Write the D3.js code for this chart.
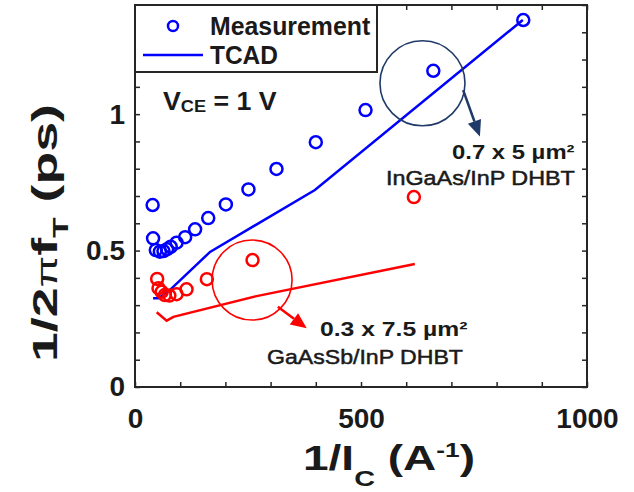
<!DOCTYPE html>
<html><head><meta charset="utf-8">
<script src="https://cdn.jsdelivr.net/npm/d3@7"></script>
<style>body{margin:0;background:#fff} svg{display:block}</style>
</head><body>
<svg id="chart" width="634" height="492"></svg>
<script>
// ---- data ----
const measBlueX = [39,40,46,55,63,71,79,92,111,133,162,201,251,313,400,510,660,859];
const measBlueY = [0.667,0.545,0.502,0.496,0.498,0.505,0.514,0.529,0.549,0.578,0.619,0.669,0.724,0.799,0.897,1.015,1.159,1.345];
const tcadBlueX = [40,52,77,166,398,858];
const tcadBlueY = [0.325,0.325,0.355,0.495,0.722,1.345];
const measRedX = [49,52,59,66,76,92,114,159,260,617];
const measRedY = [0.396,0.362,0.349,0.337,0.335,0.340,0.358,0.395,0.465,0.696];
const tcadRedX = [48,70,85,269,619];
const tcadRedY = [0.274,0.243,0.257,0.333,0.451];
const xTicks = [0,100,200,300,400,500,600,700,800,900,1000];
const xTickLabels = ["0","","","","","500","","","","","1000"];
const yTicks = [0,0.1,0.2,0.3,0.4,0.5,0.6,0.7,0.8,0.9,1.0,1.1,1.2,1.3,1.4];
const yTickLabels = ["0","","","","","0.5","","","","","1","","","",""];
const legendNames = ["Measurement","TCAD"];
// annotation anchors in data coordinates
const circleCenters = [[636,1.113],[259,0.392]];
const arrowFrom = [[726,1.088],[316,0.294]];
const arrowTo = [[763,0.918],[380,0.215]];
const annColors = ["#1f3a68","#ff0000"];

// ---- layout ----
const W=634,H=492, L=135,R=587,T=5,B=387;
const svg=d3.select("#chart");
const FONT='"Liberation Sans", Arial, Helvetica, sans-serif';
const INK="#1a1a1a";
const x=d3.scaleLinear().domain([0,1000]).range([L,R]);
const y=d3.scaleLinear().domain([0,1.4]).range([B,T]);

function axisStyle(g){
  g.select(".domain").remove();
  g.selectAll(".tick line").attr("stroke","#262626").attr("stroke-width",1.5);
  g.selectAll(".tick text").attr("fill",INK).style("font-family",FONT).style("font-weight","bold").style("font-size","28px");
}
svg.append("g").attr("transform",`translate(0,${B})`)
  .call(d3.axisBottom(x).tickValues(xTicks).tickSize(-5).tickPadding(21).tickFormat((d,i)=>xTickLabels[i])).call(axisStyle);
svg.append("g").attr("transform",`translate(0,${T})`)
  .call(d3.axisTop(x).tickValues(xTicks).tickSize(-5).tickFormat("")).call(axisStyle);
svg.append("g").attr("transform",`translate(${L},0)`)
  .call(d3.axisLeft(y).tickValues(yTicks).tickSize(-5).tickPadding(10).tickFormat((d,i)=>yTickLabels[i])).call(axisStyle);
svg.append("g").attr("transform",`translate(${R},0)`)
  .call(d3.axisRight(y).tickValues(yTicks).tickSize(-5).tickFormat("")).call(axisStyle);

// lines
const line=d3.line().x(d=>x(d[0])).y(d=>y(d[1]));
svg.append("path").datum(d3.zip(tcadBlueX,tcadBlueY)).attr("d",line).attr("fill","none").attr("stroke","#0000ff").attr("stroke-width",2.5);
svg.append("path").datum(d3.zip(tcadRedX,tcadRedY)).attr("d",line).attr("fill","none").attr("stroke","#ff0000").attr("stroke-width",2.5);
// markers
svg.append("g").selectAll("circle").data(d3.zip(measBlueX,measBlueY)).join("circle")
  .attr("cx",d=>x(d[0])).attr("cy",d=>y(d[1])).attr("r",6).attr("fill","none").attr("stroke","#0000ff").attr("stroke-width",2.5);
svg.append("g").selectAll("circle").data(d3.zip(measRedX,measRedY)).join("circle")
  .attr("cx",d=>x(d[0])).attr("cy",d=>y(d[1])).attr("r",6).attr("fill","none").attr("stroke","#ff0000").attr("stroke-width",2.5);

// annotation circles and arrows
const ann=svg.append("g");
ann.selectAll("circle").data(circleCenters).join("circle")
  .attr("cx",d=>x(d[0])).attr("cy",d=>y(d[1])).attr("r",(d,i)=>i===0?42.5:40)
  .attr("fill","none").attr("stroke",(d,i)=>annColors[i]).attr("stroke-width",1.6);
arrowFrom.forEach((f,i)=>{
  const x0=x(f[0]),y0=y(f[1]),x1=x(arrowTo[i][0]),y1=y(arrowTo[i][1]);
  const dx=x1-x0,dy=y1-y0,len=Math.hypot(dx,dy),ux=dx/len,uy=dy/len;
  const hl=16,hw=7;
  const bx=x1-ux*hl,by=y1-uy*hl;
  ann.append("line").attr("x1",x0).attr("y1",y0).attr("x2",bx).attr("y2",by)
    .attr("stroke",annColors[i]).attr("stroke-width",2.5);
  ann.append("path").attr("d",`M${x1},${y1}L${bx-uy*hw},${by+ux*hw}L${bx+uy*hw},${by-ux*hw}Z`).attr("fill",annColors[i]);
});

// frame
svg.append("rect").attr("x",L).attr("y",T).attr("width",R-L).attr("height",B-T)
  .attr("fill","none").attr("stroke","#262626").attr("stroke-width",2);

// text helper: fits text to a target ink width by horizontal scaling
function fitText(opts){
  const g=svg.append("g").attr("transform",`translate(${opts.x},${opts.y}) rotate(${opts.rotate||0})`);
  const inner=g.append("g");
  const t=inner.append("text").attr("fill",INK).style("font-family",FONT);
  if(opts.thicken) t.attr("stroke",INK).attr("stroke-width",opts.thicken);
  opts.parts.forEach(p=>{
    t.append("tspan").text(p.t).attr("dy",p.dy||0)
      .style("font-size",p.size+"px").style("font-weight",p.weight||"bold")
      .style("font-family",p.family||FONT).style("font-style",p.style||"normal");
  });
  if(opts.width){
    const bb=t.node().getBBox();
    const s=opts.width/bb.width;
    inner.attr("transform",`scale(${s},1) translate(${-bb.x},0)`);
  }
  return g;
}

// legend
svg.append("rect").attr("x",L).attr("y",T).attr("width",242).attr("height",67)
  .attr("fill","#fff").attr("stroke","#262626").attr("stroke-width",2);
svg.append("circle").attr("cx",173).attr("cy",26).attr("r",5).attr("fill","none").attr("stroke","#0000ff").attr("stroke-width",2.5);
svg.append("line").attr("x1",143).attr("x2",203).attr("y1",55).attr("y2",55).attr("stroke","#0000ff").attr("stroke-width",2.5);
fitText({x:210,y:35,width:161,parts:[{t:legendNames[0],size:25}]});
fitText({x:210,y:64,width:68,parts:[{t:legendNames[1],size:25}]});

// V_CE
fitText({x:163,y:110,width:114,parts:[{t:"V",size:25},{t:"CE",size:17,dy:2},{t:" = 1 V",size:25,dy:-2}]});

// annotation text
fitText({x:452,y:159,width:123,parts:[{t:"0.7 x 5 µm²",size:20}]});
fitText({x:386,y:185,width:189,thicken:0.5,parts:[{t:"InGaAs/InP DHBT",size:20,weight:"normal"}]});
fitText({x:320,y:336,width:148,parts:[{t:"0.3 x 7.5 µm²",size:20}]});
fitText({x:267,y:364,width:196,thicken:0.5,parts:[{t:"GaAsSb/InP DHBT",size:20,weight:"normal"}]});

// axis labels
fitText({x:303,y:470,width:172,parts:[{t:"1/I",size:35},{t:"C",size:22,dy:16},{t:" (A",size:35,dy:-16},{t:"-1",size:20,dy:-13},{t:")",size:35,dy:13}]});
fitText({x:57,y:362,rotate:-90,width:258,parts:[{t:"1/2",size:35},{t:"π",size:30,weight:"normal"},{t:"f",size:35},{t:"T",size:22,dy:11},{t:" (ps)",size:35,dy:-11}]});
</script>
</body></html>
